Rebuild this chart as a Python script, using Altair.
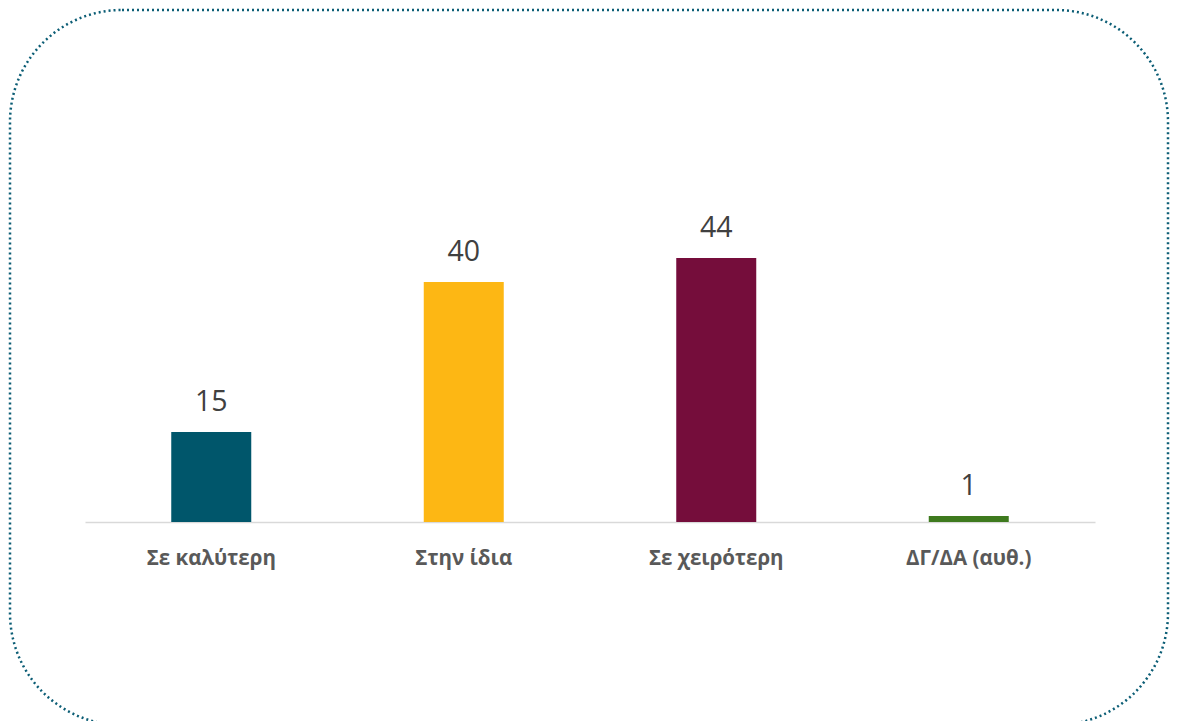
import altair as alt
import pandas as pd

categories = ["Σε καλύτερη", "Στην ίδια", "Σε χειρότερη", "ΔΓ/ΔΑ (αυθ.)"]
values = [15, 40, 44, 1]
colors = ["#00566B", "#FDB714", "#750D3B", "#3E7A1E"]

df = pd.DataFrame({"cat": categories, "val": values, "col": colors})

W = 1010
H = 408

x = alt.X("cat:N", sort=categories, title=None,
          scale=alt.Scale(paddingInner=0, paddingOuter=0),
          axis=alt.Axis(labelAngle=0, ticks=False, grid=False,
                        domainColor="#D9D9D9", domainWidth=1.5,
                        labelFont="Open Sans", labelFontWeight="bold",
                        labelFontSize=20.5, labelColor="#595959",
                        labelPadding=26))
y = alt.Y("val:Q", scale=alt.Scale(domain=[0, 68], nice=False), axis=None)

bars = alt.Chart(df).mark_bar(size=80).encode(
    x=x, y=y,
    color=alt.Color("col:N", scale=None, legend=None),
)

labels = alt.Chart(df).mark_text(
    font="Open Sans", fontSize=28.5, color="#404040", baseline="alphabetic", dy=-21
).encode(x=alt.X("cat:N", sort=categories), y="val:Q", text="val:Q")

border = alt.Chart(pd.DataFrame({"k": [0]})).mark_rect(
    filled=False, stroke="#0B5D75", strokeWidth=2.5, strokeDash=[2, 3],
    cornerRadius=112
).encode(
    x=alt.value(-75), x2=alt.value(1083),
    y=alt.value(-104), y2=alt.value(611),
)

chart = alt.layer(border, bars, labels).properties(
    width=W, height=H,
    autosize=alt.AutoSizeParams(type="none"),
    padding={"left": 77, "top": 106, "right": 75, "bottom": 199},
).configure_view(stroke=None)

chart.save("out.html", embed_options={"renderer": "svg", "actions": False})
